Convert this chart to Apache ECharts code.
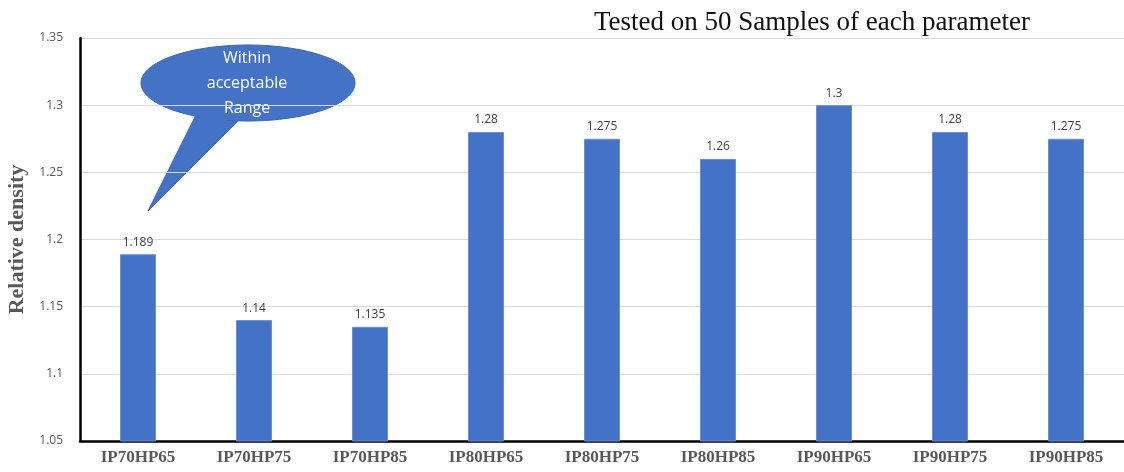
<!DOCTYPE html>
<html><head><meta charset="utf-8">
<script src="https://cdn.jsdelivr.net/npm/echarts@6/dist/echarts.min.js"></script>
<style>html,body{margin:0;padding:0;background:#fff}#c{width:1124px;height:472px}</style>
</head><body><div id="c"></div>
<script>
const categories = ['IP70HP65','IP70HP75','IP70HP85','IP80HP65','IP80HP75','IP80HP85','IP90HP65','IP90HP75','IP90HP85'];
const densityValues = [1.189, 1.14, 1.135, 1.28, 1.275, 1.26, 1.3, 1.28, 1.275];
const yTicks = [1.05, 1.1, 1.15, 1.2, 1.25, 1.3, 1.35];
const titleText = 'Tested on 50 Samples of each parameter';
const calloutLines = ['Within', 'acceptable', 'Range'];

const chart = echarts.init(document.getElementById('c'));
const option = {
  animation: false,
  title: {
    text: titleText, left: 589, top: 4,
    textStyle: {fontFamily: 'Liberation Serif', fontWeight: 'normal', fontSize: 27, color: '#111'}
  },
  grid: {left: 80, right: 0, top: 38, bottom: 31, outerBoundsMode: 'none', containLabel: false},
  xAxis: {
    type: 'category', data: categories,
    axisLine: {lineStyle: {color: '#000', width: 2.5}},
    axisTick: {show: false},
    axisLabel: {fontFamily: 'Liberation Serif', fontWeight: 'bold', fontSize: 17, color: '#595959', margin: 8}
  },
  yAxis: {
    type: 'value', min: yTicks[0], max: yTicks[yTicks.length-1], interval: 0.05,
    name: 'Relative density', nameLocation: 'middle', nameGap: 50, nameRotate: 90,
    nameTextStyle: {fontFamily: 'Liberation Serif', fontWeight: 'bold', fontSize: 22, color: '#595959'},
    axisLine: {show: true, lineStyle: {color: '#000', width: 2.5}},
    axisTick: {show: false},
    axisLabel: {fontFamily: 'Open Sans', fontSize: 12, color: '#595959', margin: 17,
      formatter: v => String(+v.toFixed(3))},
    splitLine: {lineStyle: {color: '#D9D9D9', width: 1}}
  },
  series: [{
    type: 'bar', data: densityValues, barWidth: 36,
    itemStyle: {color: '#4472C4', borderColor: '#6A8FD3', borderWidth: 1},
    label: {show: true, position: 'top', distance: 6, fontFamily: 'Open Sans', fontSize: 12, color: '#404040',
      formatter: p => String(p.value)}
  }],
  graphic: [
    {type: 'group', z: 100, children: [
      {type: 'polygon', shape: {points: [[196,115],[238,121],[148,211]]},
        style: {fill: '#4472C4', stroke: '#3B64AE', lineWidth: 1}},
      {type: 'ellipse', shape: {cx: 248, cy: 83, rx: 107, ry: 38},
        style: {fill: '#4472C4', stroke: '#3B64AE', lineWidth: 1}},
      {type: 'polygon', shape: {points: [[200,113],[234,118],[200,128]]},
        style: {fill: '#4472C4'}},
      {type: 'text', x: 247, y: 83,
        style: {text: calloutLines.join('\n'), fill: '#fff', font: '16px "Open Sans"', lineHeight: 25,
          align: 'center', verticalAlign: 'middle'}}
    ]}
  ]
};
chart.setOption(option);
</script>
</body></html>
